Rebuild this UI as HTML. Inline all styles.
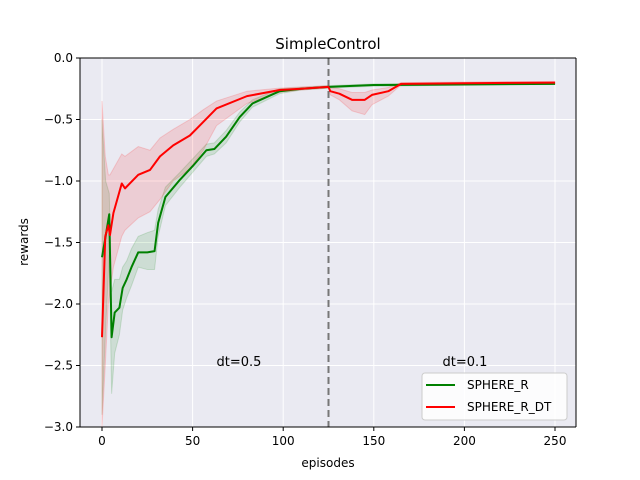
<!DOCTYPE html>
<html><head><meta charset="utf-8"><style>
body{margin:0;background:#fff;}
svg{display:block;font-family:"DejaVu Sans","Liberation Sans",sans-serif;}
</style></head><body>
<svg id="chart" width="640" height="480">
<rect x="80" y="58" width="496" height="369" fill="#eaeaf2"/>
<g id="grid"></g>
<g id="bands"></g>
<line id="vline" stroke="#777" stroke-width="2" stroke-dasharray="7,4"/>
<g id="lines"></g>
<line x1="80" y1="427" x2="576" y2="427" stroke="#000" stroke-width="1"/>
<line x1="80" y1="58" x2="80" y2="427" stroke="#000" stroke-width="1"/>
<line x1="576" y1="58" x2="576" y2="427" stroke="#000" stroke-width="1"/>
<line x1="80" y1="58" x2="576" y2="58" stroke="#000" stroke-width="1"/>
<g id="ticks" font-size="12"></g>
<text x="328" y="49" text-anchor="middle" font-size="15">SimpleControl</text>
<text x="328" y="467" text-anchor="middle" font-size="12">episodes</text>
<text transform="translate(28,242) rotate(-90)" text-anchor="middle" font-size="12">rewards</text>
<text x="239" y="366" text-anchor="middle" font-size="13">dt=0.5</text>
<text x="465" y="366" text-anchor="middle" font-size="13">dt=0.1</text>
<g>
<rect x="422" y="373" width="145" height="47" rx="3" fill="#fff" fill-opacity="0.85" stroke="#ccc"/>
<line x1="426" y1="385" x2="455" y2="385" stroke="green" stroke-width="2"/>
<text x="467" y="389" font-size="12">SPHERE_R</text>
<line x1="426" y1="407" x2="455" y2="407" stroke="red" stroke-width="2"/>
<text x="467" y="411" font-size="12">SPHERE_R_DT</text>
</g>
</svg>
<script>
const xTicks=[0,50,100,150,200,250];
const yTicks=[0,-0.5,-1,-1.5,-2,-2.5,-3];
const yTickLabels=["0.0","−0.5","−1.0","−1.5","−2.0","−2.5","−3.0"];
const switchEpisode=125;
const gEp=[0,2,4,5.3,7,9.6,11.4,13.6,16.3,20,25,29,31,35,43,50,57.6,62,68.5,76,83,98,110,125,150,200,250];
const gMean=[-1.62,-1.45,-1.27,-2.27,-2.07,-2.03,-1.87,-1.80,-1.70,-1.58,-1.58,-1.57,-1.34,-1.13,-0.99,-0.88,-0.75,-0.74,-0.64,-0.48,-0.37,-0.27,-0.25,-0.235,-0.22,-0.215,-0.21];
const gLo=[-2.9,-2.2,-1.6,-2.73,-2.4,-2.25,-2.05,-1.95,-1.85,-1.7,-1.72,-1.72,-1.45,-1.2,-1.05,-0.93,-0.8,-0.78,-0.69,-0.52,-0.4,-0.29,-0.26,-0.245,-0.23,-0.22,-0.215];
const gHi=[-0.5,-1.0,-1.1,-1.9,-1.8,-1.8,-1.7,-1.65,-1.55,-1.45,-1.42,-1.4,-1.23,-1.05,-0.93,-0.82,-0.7,-0.69,-0.59,-0.44,-0.34,-0.25,-0.24,-0.225,-0.21,-0.205,-0.2];
const rEp=[0,1.8,3.5,4.4,6.3,10.9,12.7,20,26.5,32,39.3,48.5,55.9,63.2,80,98,110,125,126,131,138,145,149,158,165,200,250];
const rMean=[-2.27,-1.45,-1.36,-1.44,-1.26,-1.02,-1.06,-0.95,-0.91,-0.80,-0.71,-0.63,-0.52,-0.41,-0.31,-0.26,-0.25,-0.235,-0.27,-0.29,-0.34,-0.34,-0.30,-0.27,-0.21,-0.205,-0.2];
const rLo=[-3.0,-2.5,-2.0,-1.9,-1.7,-1.45,-1.4,-1.3,-1.25,-1.15,-1.0,-0.9,-0.75,-0.55,-0.37,-0.28,-0.26,-0.245,-0.3,-0.34,-0.43,-0.46,-0.38,-0.31,-0.22,-0.215,-0.21];
const rHi=[-0.35,-0.8,-0.95,-0.95,-0.9,-0.78,-0.8,-0.72,-0.75,-0.65,-0.58,-0.5,-0.42,-0.35,-0.27,-0.245,-0.235,-0.225,-0.24,-0.25,-0.28,-0.28,-0.26,-0.24,-0.2,-0.195,-0.19];
const X=e=>102+e*1.812;
const Y=v=>58-v*123;
const NS='http://www.w3.org/2000/svg';
function mk(tag,attrs,parent){const el=document.createElementNS(NS,tag);for(const k in attrs)el.setAttribute(k,attrs[k]);parent.appendChild(el);return el;}
const grid=document.getElementById('grid'),ticks=document.getElementById('ticks');
xTicks.forEach(t=>{
 const gl=mk('line',{x1:X(t),x2:X(t),y1:58,y2:427,stroke:'#fff','stroke-width':1},grid);
 
 
 mk('line',{x1:X(t),x2:X(t),y1:427,y2:431,stroke:'#000'},ticks);
 const tx=mk('text',{x:X(t),y:445,'text-anchor':'middle'},ticks);tx.textContent=t;
 
 
});
yTicks.forEach((t,i)=>{
 const gl=mk('line',{x1:80,x2:576,y1:Y(t),y2:Y(t),stroke:'#fff','stroke-width':1},grid);
 
 
 mk('line',{x1:76,x2:80,y1:Y(t),y2:Y(t),stroke:'#000'},ticks);
 const tx=mk('text',{x:73,y:Y(t)+4,'text-anchor':'end'},ticks);tx.textContent=yTickLabels[i];
 
 
});
const bands=document.getElementById('bands'),lines=document.getElementById('lines');
function band(ep,lo,hi,color,name){
 let d='M'+ep.map((e,i)=>X(e)+','+Y(hi[i])).join('L');
 for(let i=ep.length-1;i>=0;i--)d+='L'+X(ep[i])+','+Y(lo[i]);
 const p=mk('path',{d:d+'Z',fill:color,'fill-opacity':0.12,stroke:color,'stroke-opacity':0.15},bands);
 
 
}
function line(ep,m,color,name){
 const p=mk('path',{d:'M'+ep.map((e,i)=>X(e)+','+Y(m[i])).join('L'),fill:'none',stroke:color,'stroke-width':2,'stroke-linejoin':'round'},lines);
 
 
}
band(gEp,gLo,gHi,'green','sphere-r-band');
band(rEp,rLo,rHi,'red','sphere-r-dt-band');
line(gEp,gMean,'green','sphere-r-line');
line(rEp,rMean,'red','sphere-r-dt-line');
const vl=document.getElementById('vline');
vl.setAttribute('x1',X(switchEpisode));vl.setAttribute('x2',X(switchEpisode));
vl.setAttribute('y1',58);vl.setAttribute('y2',427);
</script>
</body></html>
